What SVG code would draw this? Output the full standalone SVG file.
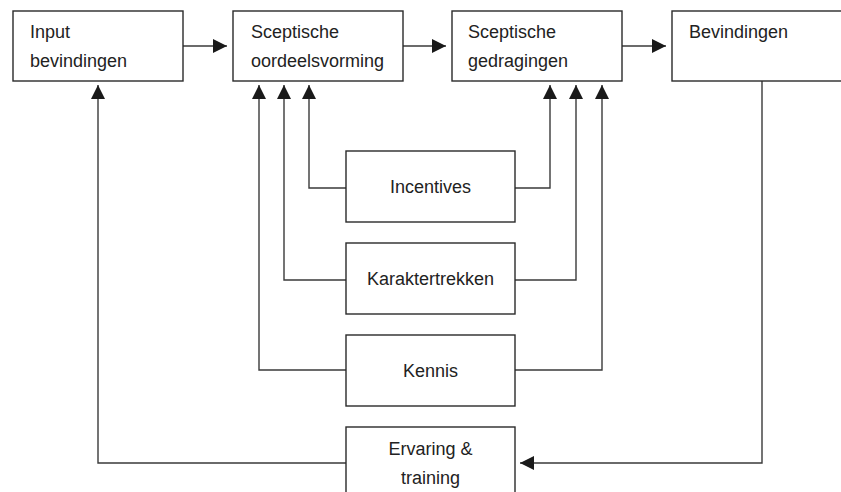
<svg xmlns="http://www.w3.org/2000/svg" width="841" height="492" viewBox="0 0 841 492">
<style>
.box{fill:#fff;stroke:#2a2a2a;stroke-width:1.4}
.ln{fill:none;stroke:#3a3a3a;stroke-width:1.4}
text{font-family:"Liberation Sans",Arial,sans-serif;font-size:18px;fill:#222}
.c{text-anchor:middle}
</style>
<defs>
<marker id="ah" markerUnits="userSpaceOnUse" markerWidth="14" markerHeight="14" viewBox="0 0 12 12" refX="12" refY="6" orient="auto">
<path d="M0,0 L12,6 L0,12 z" fill="#1a1a1a"/>
</marker>
</defs>
<g id="connectors">
<path class="ln" d="M183,46 H227" marker-end="url(#ah)"/>
<path class="ln" d="M403,46 H446" marker-end="url(#ah)"/>
<path class="ln" d="M622,46 H666" marker-end="url(#ah)"/>
<path class="ln" d="M346,188 H309 V85" marker-end="url(#ah)"/>
<path class="ln" d="M515,188 H550 V85" marker-end="url(#ah)"/>
<path class="ln" d="M346,280 H284 V85" marker-end="url(#ah)"/>
<path class="ln" d="M515,280 H576 V85" marker-end="url(#ah)"/>
<path class="ln" d="M346,370 H259 V85" marker-end="url(#ah)"/>
<path class="ln" d="M515,370 H602 V85" marker-end="url(#ah)"/>
<path class="ln" d="M346,463 H98 V85" marker-end="url(#ah)"/>
<path class="ln" d="M762,81 V463 H520" marker-end="url(#ah)"/>
</g>
<g id="input">
<rect class="box" x="13" y="11" width="170" height="70"/>
<text x="30" y="38">Input</text>
<text x="30" y="67">bevindingen</text>
</g>
<g id="oordeelsvorming">
<rect class="box" x="233" y="11" width="170" height="70"/>
<text x="251" y="38">Sceptische</text>
<text x="251" y="67">oordeelsvorming</text>
</g>
<g id="gedragingen">
<rect class="box" x="452" y="11" width="170" height="70"/>
<text x="468" y="38">Sceptische</text>
<text x="468" y="67">gedragingen</text>
</g>
<g id="bevindingen">
<rect class="box" x="672" y="11" width="170" height="70"/>
<text x="689" y="38">Bevindingen</text>
</g>
<g id="incentives">
<rect class="box" x="346" y="151" width="169" height="71"/>
<text class="c" x="430.5" y="193">Incentives</text>
</g>
<g id="karaktertrekken">
<rect class="box" x="346" y="243" width="169" height="71"/>
<text class="c" x="430.5" y="285">Karaktertrekken</text>
</g>
<g id="kennis">
<rect class="box" x="346" y="335" width="169" height="71"/>
<text class="c" x="430.5" y="377">Kennis</text>
</g>
<g id="ervaring">
<rect class="box" x="346" y="427" width="169" height="80"/>
<text class="c" x="430.5" y="455">Ervaring &amp;</text>
<text class="c" x="430.5" y="484">training</text>
</g>
</svg>
